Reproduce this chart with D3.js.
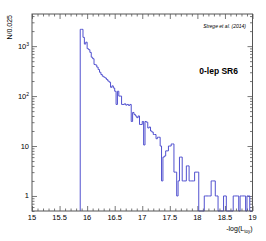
<!DOCTYPE html>
<html>
<head>
<meta charset="utf-8">
<script src="https://d3js.org/d3.v7.min.js"></script>
<style>
  body { margin: 0; background: #fff; }
  text { font-family: "Liberation Sans", Arial, sans-serif; }
</style>
</head>
<body>
<script>
// histogram: bins of 0.025 starting at 15.875
var binStart = 15.875, binWidth = 0.025;
var counts = [
  2170, 2170, 1500, 1100, 1200, 890, 850, 750, 600, 560,
  430, 420, 380, 340, 300, 270, 250, 240, 230, 215,
  200, 190, 150, 160, 145, 125, 68, 125, 100, 100,
  68, 68, 70, 66, 68, 65, 68, 31, 47, 43,
  40, 37, 40, 27, 27, 31, 10.5, 31, 30, 23,
  24, 20, 19, 17, 17, 14, 15, 15, 10, 2,
  6, 6.3, 8, 8, 10, 10, 11, 11, 3, 3,
  1, 2, 6, 6, 2, 2, 2, 4, 4, 2,
  2, 2, 2, 3, 3, 3, 0, 0, 0, 0,
  1, 1, 1, 1, 1, 2, 2, 2, 1, 1,
  0, 0, 0, 0, 1, 1, 0, 0, 0, 0,
  0, 1, 1, 1, 1, 0, 1, 1, 1, 1,
  0, 1, 1, 0, 0
];
var xMajor = [15, 15.5, 16, 16.5, 17, 17.5, 18, 18.5, 19];
var xLabels = ["15", "15.5", "16", "16.5", "17", "17.5", "18", "18.5", "19"];
var yMajor = [1, 10, 100, 1000];
var yBase = ["1", "10", "10", "10"];
var yExp = ["", "", "2", "3"];

var W = 266, H = 241;
var pLeft = 32, pRight = 252.5, pTop = 14, pBottom = 211;
var axisCol = "#555", histCol = "#5151cf";

var svg = d3.select("body").append("svg").attr("width", W).attr("height", H);
svg.append("rect").attr("width", W).attr("height", H).attr("fill", "#fff");

var x = d3.scaleLinear().domain([15, 19]).range([pLeft, pRight]);
var y = d3.scaleLog().domain([0.5, 4400]).range([pBottom, pTop]);

// minor tick values
var xMinor = d3.range(150, 191).map(d => d / 10).filter(d => Math.abs(d * 2 - Math.round(d * 2)) > 1e-6);
var yMinor = [];
[0.1, 1, 10, 100, 1000].forEach(dec => { for (var k = 2; k <= 9; k++) { var v = dec * k; if (v >= 0.5 && v <= 4400) yMinor.push(v); } });

var g = svg.append("g");

// ticks (inside the frame)
function tickAxis(axis, tr, vals, size) {
  var a = g.append("g").attr("transform", tr)
    .call(axis.tickValues(vals).tickSize(size).tickFormat(""));
  a.select(".domain").remove();
  a.selectAll("line").attr("stroke", axisCol).attr("stroke-width", 0.8);
}
tickAxis(d3.axisBottom(x), "translate(0," + pBottom + ")", xMajor, -5);
tickAxis(d3.axisBottom(x), "translate(0," + pBottom + ")", xMinor, -2.5);
tickAxis(d3.axisTop(x), "translate(0," + pTop + ")", xMajor, -5);
tickAxis(d3.axisTop(x), "translate(0," + pTop + ")", xMinor, -2.5);
tickAxis(d3.axisLeft(y), "translate(" + pLeft + ",0)", yMajor, -5);
tickAxis(d3.axisLeft(y), "translate(" + pLeft + ",0)", yMinor, -2.5);
tickAxis(d3.axisRight(y), "translate(" + pRight + ",0)", yMajor, -5);
tickAxis(d3.axisRight(y), "translate(" + pRight + ",0)", yMinor, -2.5);

// histogram step line
var pts = [[x(binStart), pBottom]];
counts.forEach(function (c, i) {
  var yy = c > 0 ? y(c) : pBottom;
  pts.push([x(binStart + i * binWidth), yy]);
  pts.push([x(binStart + (i + 1) * binWidth), yy]);
});
svg.append("path").attr("d", d3.line()(pts))
  .attr("fill", "none").attr("stroke", histCol).attr("stroke-width", 1);

// frame
svg.append("rect").attr("x", pLeft).attr("y", pTop)
  .attr("width", pRight - pLeft).attr("height", pBottom - pTop)
  .attr("fill", "none").attr("stroke", axisCol).attr("stroke-width", 1);

// x labels
svg.append("g").selectAll("text").data(xMajor).enter().append("text")
  .attr("x", d => x(d)).attr("y", pBottom + 9)
  .attr("text-anchor", "middle").attr("font-size", 7.5).attr("fill", "#000")
  .text((d, i) => xLabels[i]);

// y labels
var yl = svg.append("g").selectAll("text").data(yMajor).enter().append("text")
  .attr("x", pLeft - 3).attr("y", d => y(d) + 2.5)
  .attr("text-anchor", "end").attr("font-size", 7.5).attr("fill", "#000");
yl.append("tspan").text((d, i) => yBase[i]);
yl.append("tspan").attr("dy", -3).attr("font-size", 5).text((d, i) => yExp[i]);

// axis titles
svg.append("text").attr("transform", "translate(12," + (pTop + 1) + ") rotate(-90)")
  .attr("text-anchor", "end").attr("font-size", 7).text("N/0.025");

var xt = svg.append("text").attr("x", pRight).attr("y", pBottom + 20)
  .attr("text-anchor", "end").attr("font-size", 7);
xt.append("tspan").text("-log(L");
xt.append("tspan").attr("dy", 2).attr("font-size", 4.5).text("toy");
xt.append("tspan").attr("dy", -2).text(")");

svg.append("text").attr("x", 246).attr("y", 28).attr("text-anchor", "end")
  .attr("font-size", 5).attr("font-style", "italic").text("Strege et al. (2014)");
svg.append("text").attr("x", 238).attr("y", 74).attr("text-anchor", "end")
  .attr("font-size", 8.5).attr("font-weight", "bold").text("0-lep SR6");
</script>
</body>
</html>
